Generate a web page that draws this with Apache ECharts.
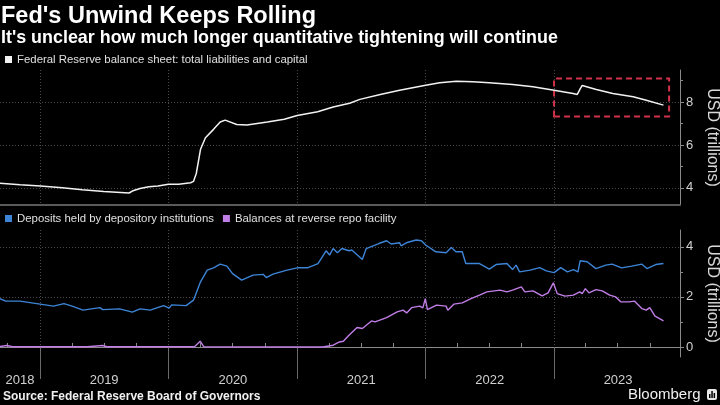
<!DOCTYPE html>
<html>
<head>
<meta charset="utf-8">
<script src="https://cdn.jsdelivr.net/npm/echarts@6/dist/echarts.min.js"></script>
<style>
html,body{margin:0;padding:0;background:#000;}
#c{width:720px;height:405px;}
</style>
</head>
<body>
<div id="c"></div>
<script>
// ---- data (trillions USD) ----
const fedDates = ['2018-09-09','2018-11-05','2019-01-02','2019-03-05','2019-05-01','2019-07-01','2019-09-11','2019-09-20','2019-10-12','2019-11-06','2019-12-02','2020-01-01','2020-01-30','2020-03-04','2020-03-12','2020-03-20','2020-04-01','2020-04-15','2020-05-08','2020-05-27','2020-06-10','2020-07-13','2020-08-11','2020-10-08','2020-11-25','2021-01-01','2021-02-28','2021-04-13','2021-05-30','2021-06-28','2021-08-25','2021-10-19','2022-01-01','2022-02-10','2022-03-29','2022-05-15','2022-07-01','2022-09-05','2022-11-02','2023-01-01','2023-02-24','2023-03-08','2023-03-17','2023-03-22','2023-05-01','2023-06-17','2023-08-14','2023-09-20','2023-11-08'];
const fedValues = [4.22,4.15,4.09,4.0,3.91,3.83,3.76,3.85,3.97,4.05,4.09,4.17,4.17,4.24,4.3,4.67,5.8,6.34,6.73,7.07,7.16,6.96,6.93,7.07,7.2,7.38,7.55,7.77,7.95,8.13,8.36,8.56,8.79,8.9,8.98,8.95,8.9,8.82,8.72,8.56,8.4,8.36,8.64,8.78,8.59,8.4,8.25,8.09,7.86];

const depDates = ['2018-09-09','2018-09-25','2018-11-05','2019-01-01','2019-02-08','2019-03-10','2019-04-02','2019-05-03','2019-06-20','2019-06-28','2019-08-15','2019-09-20','2019-10-12','2019-11-10','2019-12-18','2020-01-03','2020-01-10','2020-02-20','2020-03-12','2020-04-01','2020-04-20','2020-05-08','2020-05-27','2020-06-15','2020-07-01','2020-07-27','2020-08-28','2020-09-26','2020-10-05','2020-10-24','2020-12-03','2021-01-01','2021-01-30','2021-03-01','2021-03-24','2021-04-03','2021-04-13','2021-04-25','2021-05-08','2021-05-28','2021-06-05','2021-07-05','2021-07-16','2021-08-21','2021-09-12','2021-09-25','2021-10-19','2021-10-23','2021-11-07','2021-12-05','2021-12-20','2022-01-01','2022-01-30','2022-02-28','2022-03-15','2022-03-28','2022-04-15','2022-04-25','2022-06-03','2022-07-01','2022-07-20','2022-08-20','2022-09-05','2022-09-15','2022-09-25','2022-10-25','2022-11-21','2022-12-10','2023-01-01','2023-01-20','2023-02-08','2023-02-25','2023-03-10','2023-03-16','2023-04-05','2023-04-30','2023-05-28','2023-06-15','2023-07-12','2023-08-10','2023-09-07','2023-09-22','2023-10-17','2023-11-08'];
const depValues = [1.93,1.83,1.83,1.71,1.63,1.73,1.63,1.47,1.57,1.49,1.52,1.39,1.52,1.47,1.65,1.55,1.68,1.65,1.87,2.6,3.07,3.16,3.31,3.23,2.93,2.67,2.87,2.9,2.77,2.91,3.07,3.16,3.16,3.33,3.84,3.67,3.93,3.76,3.93,3.84,3.87,3.49,3.93,4.13,4.24,4.11,4.16,4.04,4.16,4.27,4.24,4.07,3.8,3.76,3.97,3.8,3.8,3.33,3.33,3.11,3.29,3.33,3.09,3.27,3.0,3.07,3.17,3.04,2.97,3.17,3.0,3.09,3.0,3.44,3.4,3.13,3.27,3.31,3.16,3.23,3.31,3.13,3.29,3.33];

const rrpDates = ['2018-09-09','2018-09-28','2018-10-15','2019-01-01','2019-05-15','2019-06-28','2019-07-10','2020-03-15','2020-03-31','2020-04-10','2021-03-15','2021-04-13','2021-05-01','2021-05-12','2021-05-28','2021-06-20','2021-07-05','2021-07-31','2021-08-10','2021-09-12','2021-10-12','2021-10-29','2021-11-08','2021-11-22','2021-12-15','2021-12-24','2021-12-31','2022-01-06','2022-02-01','2022-02-28','2022-03-05','2022-03-22','2022-04-15','2022-05-10','2022-06-03','2022-06-24','2022-07-31','2022-08-20','2022-09-05','2022-09-30','2022-10-10','2022-11-02','2022-11-28','2022-12-15','2022-12-30','2023-01-10','2023-02-01','2023-02-25','2023-03-15','2023-03-22','2023-03-31','2023-04-10','2023-04-30','2023-05-18','2023-06-08','2023-06-25','2023-07-10','2023-08-02','2023-08-18','2023-09-08','2023-09-20','2023-09-30','2023-10-15','2023-10-28','2023-11-08'];
const rrpValues = [0.02,0.06,0.01,0.01,0.01,0.06,0.01,0.01,0.23,0.01,0.0,0.07,0.2,0.23,0.47,0.78,0.74,1.04,1.0,1.17,1.4,1.47,1.36,1.57,1.63,1.56,1.93,1.49,1.67,1.63,1.47,1.71,1.76,1.93,2.07,2.2,2.27,2.2,2.27,2.4,2.2,2.24,2.04,2.16,2.56,2.13,2.03,2.07,2.2,2.13,2.33,2.16,2.29,2.24,2.07,2.0,1.8,1.8,1.83,1.53,1.47,1.57,1.23,1.13,1.04];

const yearBoundaries = ['2019-01-01','2020-01-01','2021-01-01','2022-01-01','2023-01-01'];
const yearLabelDates = ['2018-11-05','2019-07-02','2020-07-02','2021-07-02','2022-07-02','2023-07-02'];
const quarterTicks = ['2018-10-01','2019-04-01','2019-07-01','2019-10-01','2020-04-01','2020-07-01','2020-10-01','2021-04-01','2021-07-01','2021-10-01','2022-04-01','2022-07-01','2022-10-01','2023-04-01','2023-07-01','2023-10-01'];
const topMajorTicks = [4, 6, 8];
const topMinorTicks = [5, 7, 9];
const botMajorTicks = [0, 2, 4];
const botMinorTicks = [1, 3];

const names = {
  fed: 'Federal Reserve balance sheet: total liabilities and capital',
  dep: 'Deposits held by depository institutions',
  rrp: 'Balances at reverse repo facility'
};

// ---- build ----
const ts = s => echarts.number.parseDate(s).getTime();
const pair = (d, v) => d.map((x, i) => [ts(x), v[i]]);
const X_MIN = ts('2018-09-09'), X_MAX = ts('2023-12-25');
const sans = "'Liberation Sans',Arial,sans-serif";
const axisGray = '#8a8a8a';
const gridGray = '#4a4a4a';

const chart = echarts.init(document.getElementById('c'), null, {renderer: 'canvas'});

function yAxisMajor(grid, min, max, ticks) {
  return {
    type: 'value', gridIndex: grid, position: 'right', min: min, max: max,
    axisLine: {show: true, lineStyle: {color: axisGray, width: 1}},
    axisTick: {show: true, customValues: ticks, length: 4, lineStyle: {color: axisGray}},
    axisLabel: {show: true, customValues: ticks, color: '#d0d0d0', fontSize: 13, fontFamily: sans, margin: 6},
    splitLine: {show: true, lineStyle: {color: gridGray, type: [1, 2]}},
    name: 'USD (trillions)', nameLocation: 'middle', nameRotate: -90, nameGap: 17,
    nameTextStyle: {color: '#d8d8d8', fontSize: 16, fontFamily: sans}
  };
}
function yAxisMinor(grid, min, max, ticks) {
  return {
    type: 'value', gridIndex: grid, position: 'right', min: min, max: max,
    axisLine: {show: false},
    axisTick: {show: true, customValues: ticks, length: 3, lineStyle: {color: axisGray}},
    axisLabel: {show: false},
    splitLine: {show: false}
  };
}

const option = {
  backgroundColor: '#000',
  animation: false,
  title: [
    {text: "Fed's Unwind Keeps Rolling", left: 1, top: 5, padding: 0,
     textStyle: {color: '#fff', fontSize: 23.5, fontWeight: 'bold', fontFamily: sans}},
    {text: "It's unclear how much longer quantitative tightening will continue", left: 1, top: 29, padding: 0,
     textStyle: {color: '#fff', fontSize: 17.9, fontWeight: 'bold', fontFamily: sans}}
  ],
  legend: [
    {data: [names.fed], left: 5, top: 54, padding: 0, icon: 'rect', itemWidth: 7, itemHeight: 7,
     textStyle: {color: '#e0e0e0', fontSize: 11.4, fontFamily: sans}},
    {data: [names.dep, names.rrp], left: 5, top: 213, padding: 0, icon: 'rect', itemWidth: 7, itemHeight: 7, itemGap: 9,
     textStyle: {color: '#e0e0e0', fontSize: 11.4, fontFamily: sans}}
  ],
  grid: [
    {left: 0, right: 40, top: 70, height: 135, containLabel: false, outerBoundsMode: 'none'},
    {left: 0, right: 40, top: 230, height: 127, containLabel: false, outerBoundsMode: 'none'}
  ],
  xAxis: [
    {type: 'value', gridIndex: 0, min: X_MIN, max: X_MAX,
     axisLine: {show: true, lineStyle: {color: '#5a5a5a', width: 2}},
     axisTick: {show: false, customValues: yearBoundaries.map(ts)},
     axisLabel: {show: false},
     splitLine: {show: true, lineStyle: {color: gridGray, type: [1, 2]}}},
    {type: 'value', gridIndex: 1, min: X_MIN, max: X_MAX,
     axisLine: {show: true, lineStyle: {color: axisGray, width: 1}},
     axisTick: {show: true, customValues: yearBoundaries.map(ts), length: 32, lineStyle: {color: '#6a6a6a'}},
     axisLabel: {show: true, customValues: yearLabelDates.map(ts), color: '#d0d0d0', fontSize: 13, fontFamily: sans, margin: 17,
                 formatter: v => String(new Date(v).getFullYear())},
     splitLine: {show: true, lineStyle: {color: gridGray, type: [1, 2]}}},
    {type: 'value', gridIndex: 1, min: X_MIN, max: X_MAX,
     axisLine: {show: false},
     axisTick: {show: true, customValues: quarterTicks.map(ts), length: 4, lineStyle: {color: axisGray}},
     axisLabel: {show: false},
     splitLine: {show: false}}
  ],
  yAxis: [
    yAxisMajor(0, 3.2, 9.5, topMajorTicks),
    yAxisMinor(0, 3.2, 9.5, topMinorTicks),
    yAxisMajor(1, -0.4, 4.67, botMajorTicks),
    yAxisMinor(1, -0.4, 4.67, botMinorTicks)
  ],
  series: [
    {name: names.fed, type: 'line', xAxisIndex: 0, yAxisIndex: 0, data: pair(fedDates, fedValues),
     showSymbol: false, color: '#f2f2f2', lineStyle: {width: 1.5, color: '#f2f2f2'},
     markArea: {silent: true,
       itemStyle: {color: 'rgba(0,0,0,0)', borderColor: '#d2334a', borderWidth: 2, borderType: [6, 4]},
       data: [[{xAxis: ts('2023-01-01'), yAxis: 7.33}, {xAxis: ts('2023-11-24'), yAxis: 9.1}]]}},
    {name: names.dep, type: 'line', xAxisIndex: 1, yAxisIndex: 2, data: pair(depDates, depValues),
     showSymbol: false, color: '#3d84d6', lineStyle: {width: 1.4, color: '#3d84d6'}},
    {name: names.rrp, type: 'line', xAxisIndex: 1, yAxisIndex: 2, data: pair(rrpDates, rrpValues),
     showSymbol: false, color: '#c17ee6', lineStyle: {width: 1.4, color: '#c17ee6'}}
  ],
  graphic: [
    {type: 'text', left: 3, top: 391,
     style: {text: 'Source: Federal Reserve Board of Governors', fill: '#f0f0f0', font: "bold 12px " + sans}},
    {type: 'text', left: 628, top: 387,
     style: {text: 'Bloomberg', fill: '#f0f0f0', font: "15px " + sans}},
    {type: 'group', left: 707, top: 389, children: [
      {type: 'rect', shape: {x: 0, y: 0, width: 10, height: 11, r: 2}, style: {fill: '#e8e8e8'}},
      {type: 'rect', shape: {x: 2, y: 5, width: 1.5, height: 4}, style: {fill: '#000'}},
      {type: 'rect', shape: {x: 4.3, y: 2, width: 1.5, height: 7}, style: {fill: '#000'}},
      {type: 'rect', shape: {x: 6.6, y: 4, width: 1.5, height: 5}, style: {fill: '#000'}}
    ]}
  ]
};
chart.setOption(option);
</script>
</body>
</html>
